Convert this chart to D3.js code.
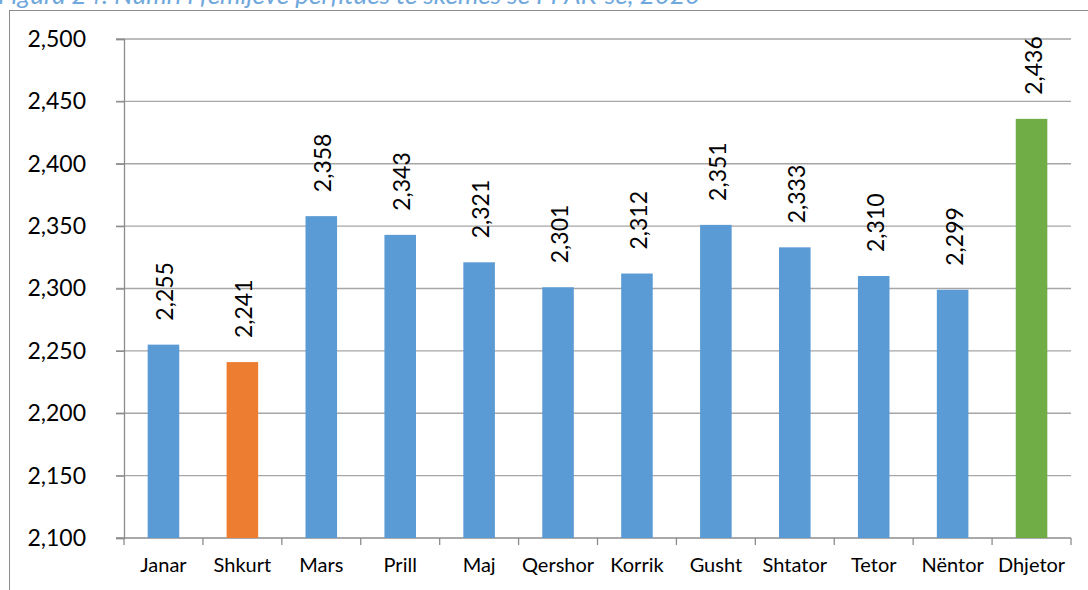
<!DOCTYPE html>
<html>
<head>
<meta charset="utf-8">
<script src="https://cdn.jsdelivr.net/npm/d3@7"></script>
<style>
  html, body { margin: 0; padding: 0; background: #fff; overflow: hidden; }
  svg { display: block; font-family: Lato, "Open Sans", sans-serif; }
  .grid line { stroke: #a6a6a6; stroke-width: 1.3; }
  .axis path, .axis line { stroke: #8c8c8c; stroke-width: 1.3; }
  .axis text { fill: #000; font-family: Lato, "Open Sans", sans-serif; }
</style>
</head>
<body>
<svg id="chart" width="1088" height="590"></svg>
<script>
// ── Data ──────────────────────────────────────────────────────────────────
const months = ['Janar', 'Shkurt', 'Mars', 'Prill', 'Maj', 'Qershor',
                'Korrik', 'Gusht', 'Shtator', 'Tetor', 'Nëntor', 'Dhjetor'];
const values = [2255, 2241, 2358, 2343, 2321, 2301, 2312, 2351, 2333, 2310, 2299, 2436];
const barColors = ['#5b9bd5', '#ed7d31', '#5b9bd5', '#5b9bd5', '#5b9bd5', '#5b9bd5',
                   '#5b9bd5', '#5b9bd5', '#5b9bd5', '#5b9bd5', '#5b9bd5', '#70ad47'];
const yTicks = [2100, 2150, 2200, 2250, 2300, 2350, 2400, 2450, 2500];
const title = 'Figura 24: Numri i fëmijëve përfitues të skemës së PPAK-së, 2020';

// ── Layout ────────────────────────────────────────────────────────────────
const svg = d3.select('#chart');
const plotL = 124, plotR = 1071, plotT = 39, plotB = 538;

const x = d3.scaleBand().domain(months).range([plotL, plotR]).paddingInner(0.6).paddingOuter(0.3);
const xb = d3.scaleBand().domain(months).range([plotL, plotR]);
const y = d3.scaleLinear().domain([2100, 2500]).range([plotB, plotT]);
const fmt = d3.format(',');

// title (mostly cut off at top edge, as in the source)
svg.append('text')
  .attr('x', -2).attr('y', 4)
  .attr('font-size', 26).attr('font-style', 'italic')
  .attr('fill', '#6fa8dc')
  .text(title);

// outer frame
svg.append('rect')
  .attr('x', 9.5).attr('y', 10.5)
  .attr('width', 1100).attr('height', 600)
  .attr('fill', '#fff').attr('stroke', '#8c8c8c').attr('stroke-width', 1);

// gridlines
svg.append('g').attr('class', 'grid')
  .selectAll('line')
  .data(yTicks.filter(t => t !== 2100))
  .join('line')
  .attr('x1', plotL - 8).attr('x2', plotR)
  .attr('y1', d => y(d)).attr('y2', d => y(d));

// y axis
const yAxis = svg.append('g').attr('class', 'axis')
  .attr('transform', `translate(${plotL},0)`)
  .call(d3.axisLeft(y).tickValues(yTicks).tickFormat(fmt).tickSize(8).tickPadding(30));
yAxis.selectAll('text').attr('font-size', 23);

// x axis
const xAxis = svg.append('g').attr('class', 'axis')
  .attr('transform', `translate(0,${plotB})`)
  .call(d3.axisBottom(xb).tickSize(0).tickPadding(20));
xAxis.select('.domain').attr('d', `M${plotL - 8},0H${plotR}`);
xAxis.selectAll('text').attr('font-size', 20);
// ticks at category boundaries
xAxis.selectAll('.bound')
  .data(months.map(m => xb(m)).concat([plotR]))
  .join('line')
  .attr('class', 'bound')
  .attr('x1', d => d).attr('x2', d => d)
  .attr('y1', 0).attr('y2', 7);

// bars
svg.append('g')
  .selectAll('rect')
  .data(months)
  .join('rect')
  .attr('x', d => x(d))
  .attr('width', x.bandwidth())
  .attr('y', (d, i) => y(values[i]))
  .attr('height', (d, i) => plotB - y(values[i]))
  .attr('fill', (d, i) => barColors[i]);

// value labels
svg.append('g')
  .selectAll('text')
  .data(months)
  .join('text')
  .attr('transform', (d, i) =>
    `translate(${x(d) + x.bandwidth() / 2 + 10},${y(values[i]) - 24}) rotate(-90)`)
  .attr('font-size', 23)
  .attr('text-anchor', 'start')
  .attr('fill', '#000')
  .text((d, i) => fmt(values[i]));
</script>
</body>
</html>
